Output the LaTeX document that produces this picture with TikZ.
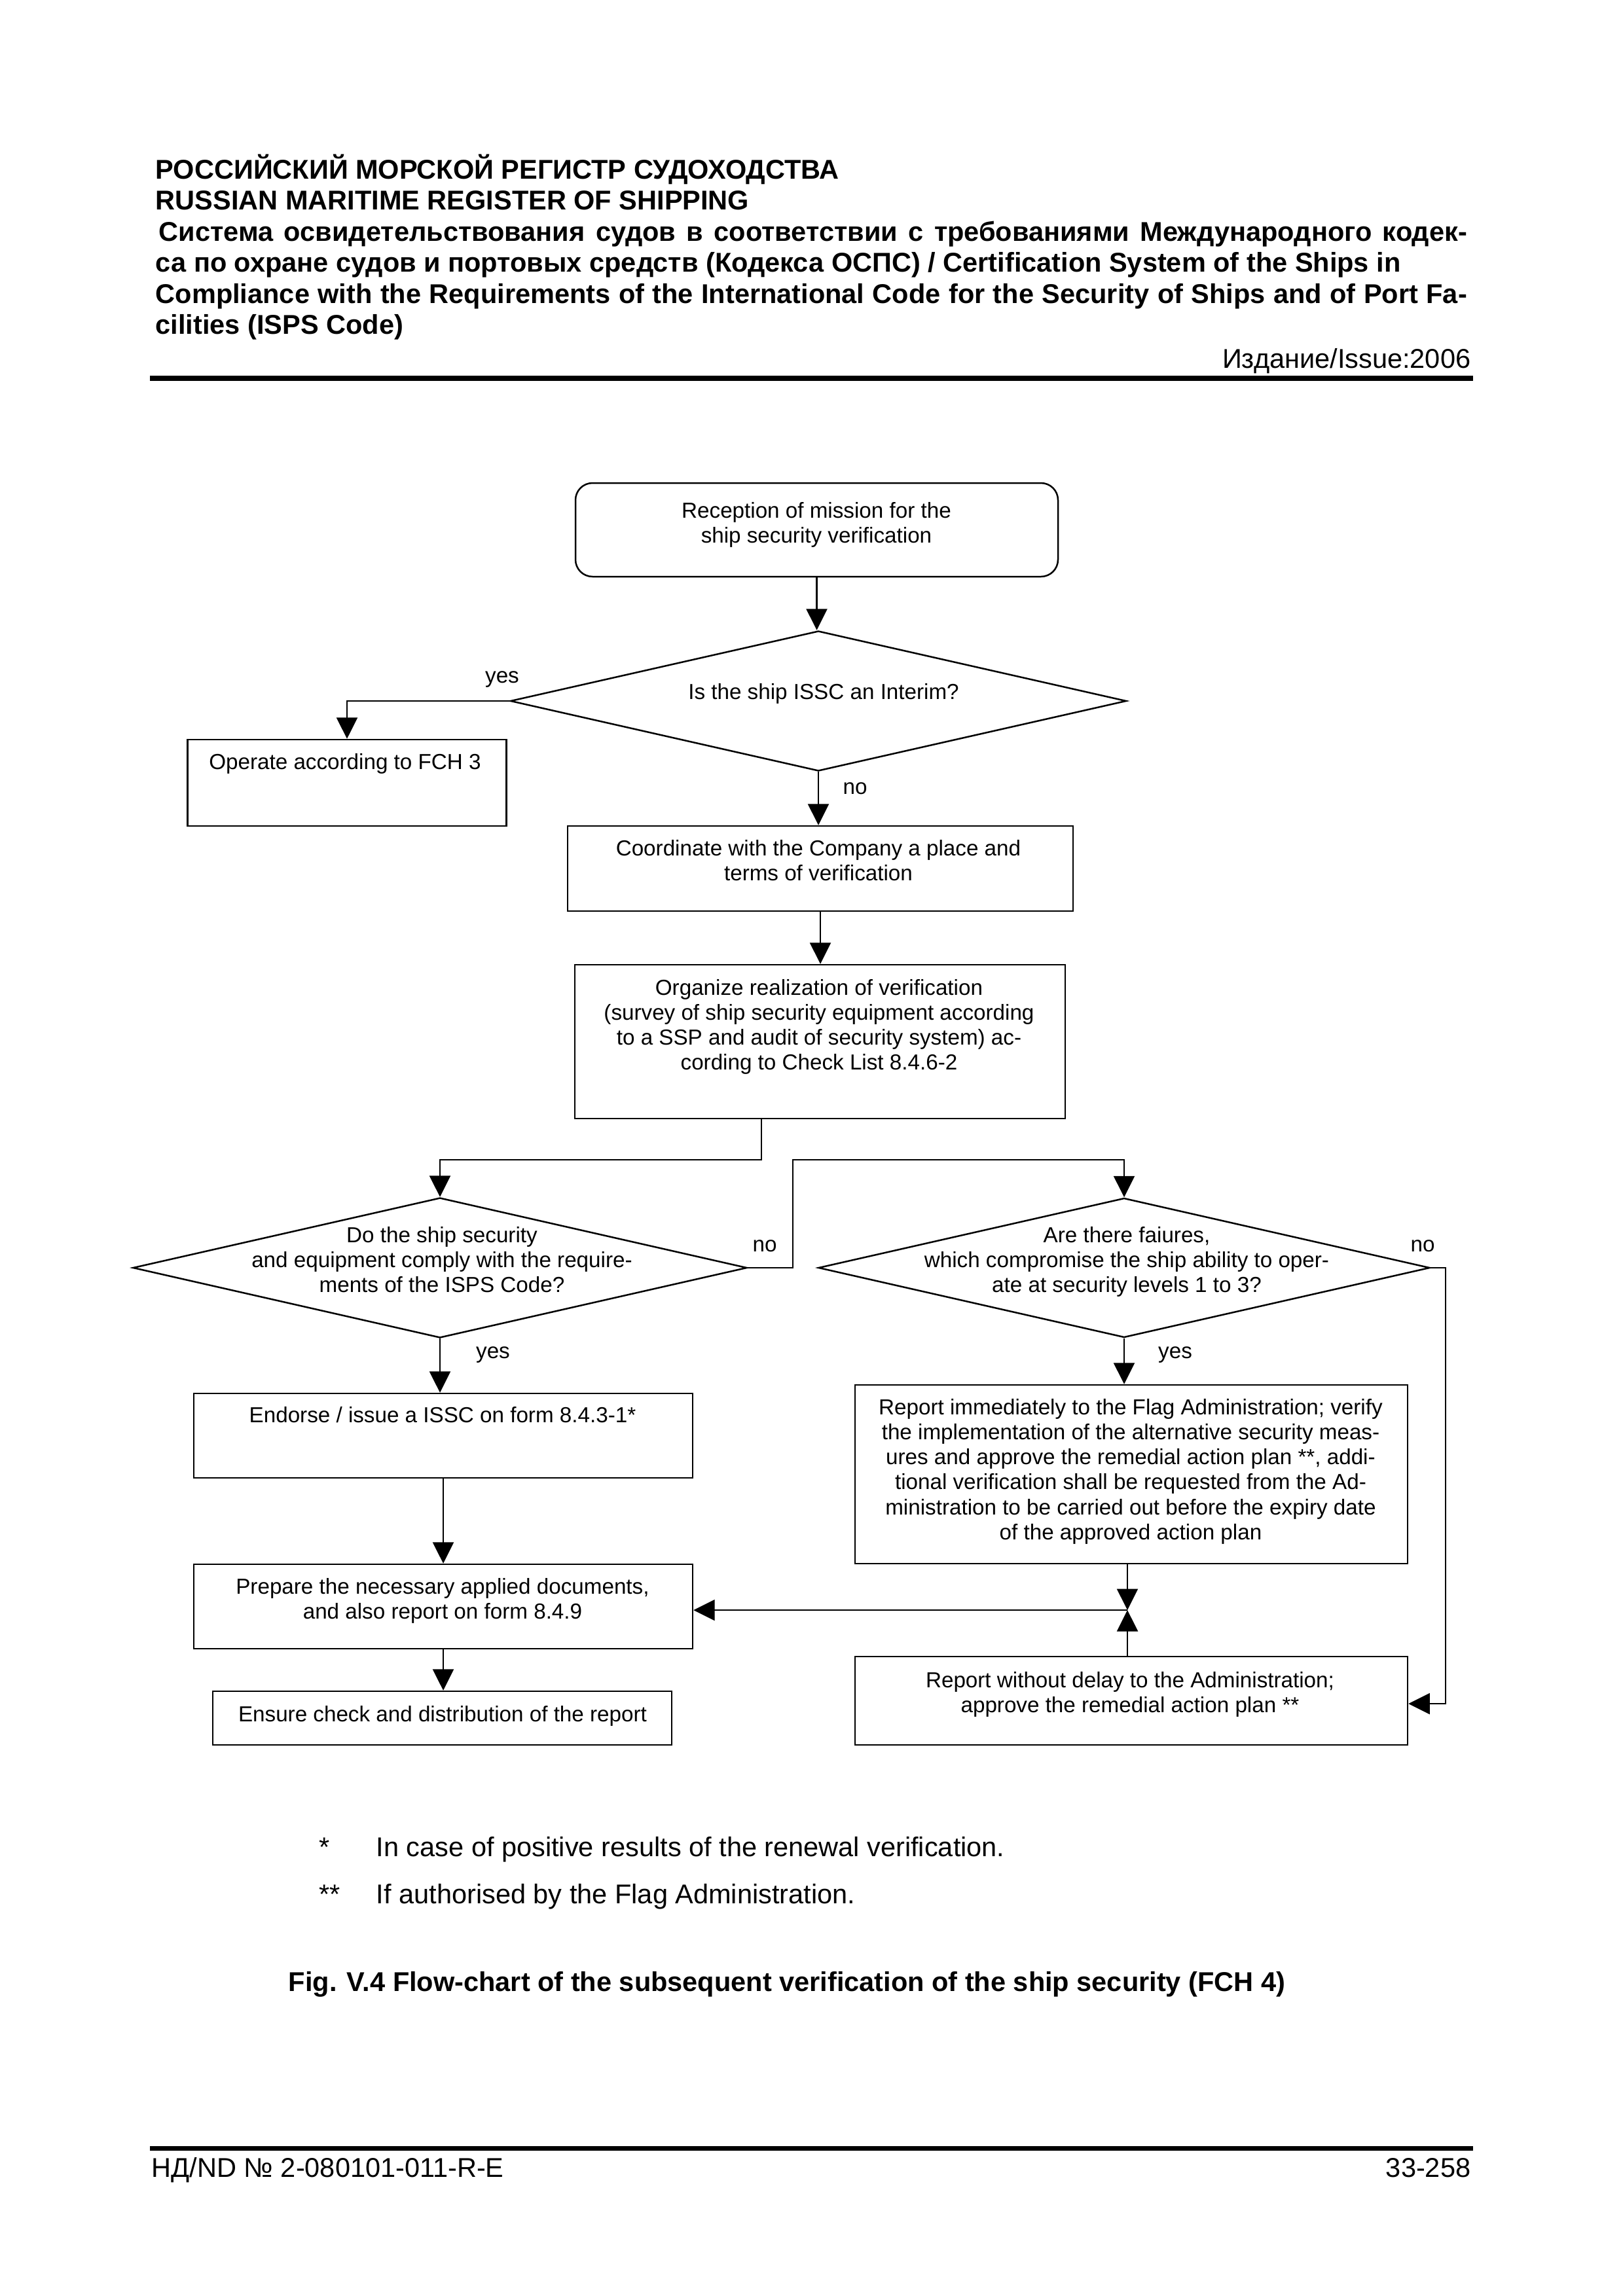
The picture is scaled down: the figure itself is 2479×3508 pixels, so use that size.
\documentclass[tikz,border=0pt]{standalone}
\usepackage{fontspec}
\setmainfont{Liberation Sans}
\usetikzlibrary{arrows.meta,shapes.geometric}
\newcommand{\mlines}[1]{\begin{tabular}[t]{@{}c@{}}#1\end{tabular}}
\begin{document}
\begin{tikzpicture}[x=0.084667mm, y=-0.084667mm,
  bx/.style n args={2}{draw, line width=0.6pt, inner sep=0pt, minimum width={#1*0.084667mm}, minimum height={#2*0.084667mm}},
  dm/.style n args={2}{draw, diamond, line width=0.6pt, inner sep=0pt, minimum width={#1*0.084667mm}, minimum height={#2*0.084667mm}},
  arr/.style={line width=0.6pt, -{Triangle[length=2.75mm, width=2.7mm]}},
  ft/.style={font=\fontsize{8}{9.22}\selectfont, inner sep=0pt, anchor=base},
  hd/.style={font=\fontsize{10}{11.5}\selectfont\bfseries, inner sep=0pt, anchor=base west},
  tx/.style={font=\fontsize{10}{12}\selectfont, inner sep=0pt},
  txb/.style={font=\fontsize{10}{12}\selectfont\bfseries, inner sep=0pt},
]
\useasboundingbox (0,0) rectangle (2479,3508);
\fill[white] (0,0) rectangle (2479,3508);

% header
\node[hd] (h1) at (237,273) {РОССИЙСКИЙ МОРСКОЙ РЕГИСТР СУДОХОДСТВА};
\node[hd] (h2) at (237,320) {RUSSIAN MARITIME REGISTER OF SHIPPING};
\node[hd] (h3) at (242,368) {\makebox[169.165mm][s]{Система освидетельствования судов в соответствии с требованиями Международного кодек-}};
\node[hd] (h4) at (237,415) {са по охране судов и портовых средств (Кодекса ОСПС) / Certification System of the Ships in};
\node[hd] (h5) at (237,463) {\makebox[169.59mm][s]{Compliance with the Requirements of the International Code for the Security of Ships and of Port Fa-}};
\node[hd] (h6) at (237,510) {cilities (ISPS Code)};
\node[tx, anchor=base east] (h7) at (2247,562) {Издание/Issue:2006};
\draw[line width=1.8pt] (229,578) -- (2250,578);

% flowchart nodes
\node[bx={737}{143}, rounded corners=2.2mm] (start) at (1247.5,809.5) {};
\node[ft] (startT) at (1247,791) {\mlines{Reception of mission for the\\ship security verification}};

\node[dm={941}{214}] (d1) at (1250,1071) {};
\node[ft] (d1T) at (1258,1068) {Is the ship ISSC an Interim?};
\node[ft] (yes1) at (767,1043) {yes};
\node[ft] (no1) at (1306,1213) {no};

\node[bx={487}{132}] (op) at (530,1196) {};
\node[ft] (opT) at (527,1175) {Operate according to FCH 3};

\node[bx={772}{130}] (coord) at (1253,1327) {};
\node[ft] (coordT) at (1250,1307) {\mlines{Coordinate with the Company a place and\\terms of verification}};

\node[bx={749}{235}] (org) at (1252.5,1591.5) {};
\node[ft] (orgT) at (1251,1520) {\mlines{Organize realization of verification\\(survey of ship security equipment according\\to a SSP and audit of security system) ac-\\cording to Check List 8.4.6-2}};

\node[dm={938}{214}] (d2) at (672,1937) {};
\node[ft] (d2T) at (675,1898) {\mlines{Do the ship security\\and equipment comply with the require-\\ments of the ISPS Code?}};
\node[ft] (no2) at (1168,1912) {no};
\node[ft] (yes2) at (753,2075) {yes};

\node[dm={934}{213}] (d3) at (1717,1937) {};
\node[ft] (d3T) at (1721,1898) {\mlines{Are there faiures,\\which compromise the ship ability to oper-\\ate at security levels 1 to 3?}};
\node[ft] (no3) at (2173,1912) {no};
\node[ft] (yes3) at (1795,2075) {yes};

\node[bx={762}{129}] (endo) at (677,2193.5) {};
\node[ft] (endoT) at (676,2173) {Endorse / issue a ISSC on form 8.4.3-1*};

\node[bx={762}{129}] (prep) at (677,2454.5) {};
\node[ft] (prepT) at (676,2435) {\mlines{Prepare the necessary applied documents,\\and also report on form 8.4.9}};

\node[bx={701}{82}] (ens) at (675.5,2625) {};
\node[ft] (ensT) at (676,2630) {Ensure check and distribution of the report};

\node[bx={844}{273}] (rep) at (1728,2252.5) {};
\node[ft] (repT) at (1727,2161) {\mlines{Report immediately to the Flag Administration; verify\\the implementation of the alternative security meas-\\ures and approve the remedial action plan **, addi-\\tional verification shall be requested from the Ad-\\ministration to be carried out before the expiry date\\of the approved action plan}};

\node[bx={844}{135}] (low) at (1728,2598.5) {};
\node[ft] (lowT) at (1726,2578) {\mlines{Report without delay to the Administration;\\approve the remedial action plan **}};

% connectors
\draw[arr] (start.south) -- (start.south |- d1.north);
\draw[arr] (d1.west) -| (op.north);
\draw[arr] (d1.south) -- (d1.south |- coord.north);
\draw[arr] (coord.south) -- (coord.south |- org.north);
\coordinate (orgout) at (1163,1709);
\coordinate (split) at (1163,1772);
\draw[arr] (orgout) -- (split) -| (d2.north);
\coordinate (nobend) at (1211,1772);
\draw[arr] (d2.east) -| (nobend) -| (d3.north);
\draw[arr] (d2.south) -- (d2.south |- endo.north);
\draw[arr] (d3.south) -- (d3.south |- rep.north);
\draw[arr] (endo.south) -- (endo.south |- prep.north);
\draw[arr] (prep.south) -- (prep.south |- ens.north);
\coordinate (join) at (1722,2460);
\draw[arr] (join |- rep.south) -- (join);
\draw[arr] (join |- low.north) -- (join);
\draw[arr] (join) -- (join -| prep.east);
\coordinate (rbend) at (2208,1937);
\coordinate (rlow) at (2208,2603);
\draw[arr] (d3.east) -- (rbend) -- (rlow) -- (rlow -| low.east);

% footnotes and caption
\node[tx, anchor=base west] (fn1s) at (487,2836) {*};
\node[tx, anchor=base west] (fn1) at (574,2836) {In case of positive results of the renewal verification.};
\node[tx, anchor=base west] (fn2s) at (487,2908) {**};
\node[tx, anchor=base west] (fn2) at (574,2908) {If authorised by the Flag Administration.};
\node[txb, anchor=base west] (cap) at (440,3042) {Fig. V.4 Flow-chart of the subsequent verification of the ship security (FCH 4)};

% footer
\draw[line width=1.7pt] (229,3282) -- (2250,3282);
\node[tx, anchor=base west] (f1) at (231,3326) {НД/ND № 2-080101-011-R-E};
\node[tx, anchor=base east] (f2) at (2247,3326) {33-258};
\end{tikzpicture}
\end{document}
